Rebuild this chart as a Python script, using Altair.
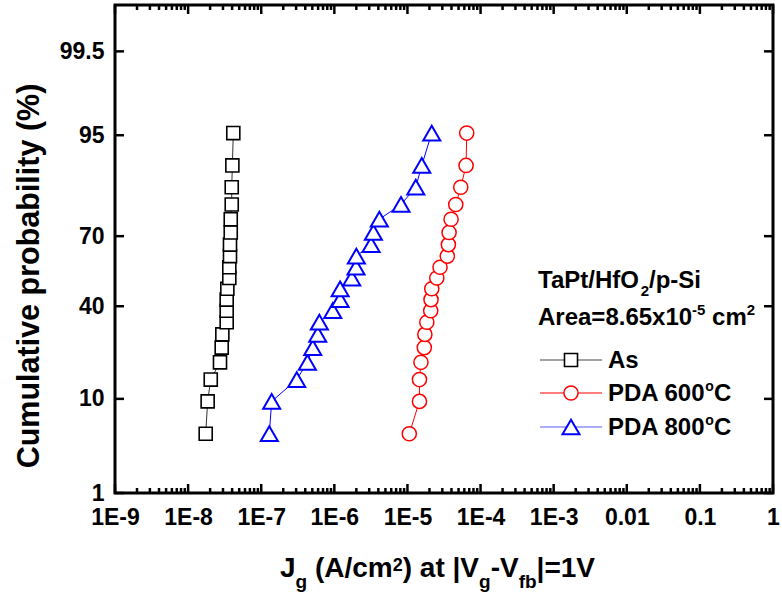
import json
import altair as alt
import pandas as pd
from statistics import NormalDist

# ---------------- data ----------------
prob = [4.76, 9.52, 14.29, 19.05, 23.81, 28.57, 33.33, 38.10, 42.86, 47.62,
        52.38, 57.14, 61.90, 66.67, 71.43, 76.19, 80.95, 85.71, 90.48, 95.24]
jg_as = [1.74e-8, 1.85e-8, 2.04e-8, 2.73e-8, 2.88e-8, 2.94e-8, 3.37e-8, 3.37e-8,
         3.37e-8, 3.44e-8, 3.66e-8, 3.66e-8, 3.74e-8, 3.74e-8, 3.83e-8, 3.83e-8,
         3.95e-8, 3.95e-8, 4.03e-8, 4.15e-8]
jg_600 = [1.06e-5, 1.46e-5, 1.46e-5, 1.53e-5, 1.70e-5, 1.73e-5, 1.84e-5, 2.08e-5,
          2.10e-5, 2.15e-5, 2.52e-5, 2.79e-5, 3.51e-5, 3.63e-5, 3.71e-5, 3.95e-5,
          4.58e-5, 5.36e-5, 6.34e-5, 6.47e-5]
jg_800 = [1.29e-7, 1.39e-7, 3.06e-7, 4.28e-7, 5.07e-7, 5.93e-7, 6.24e-7, 9.51e-7,
          1.20e-6, 1.20e-6, 1.73e-6, 1.98e-6, 2.00e-6, 3.18e-6, 3.42e-6, 4.13e-6,
          8.17e-6, 1.30e-5, 1.57e-5, 2.15e-5]
series_names = ["As", "PDA 600C", "PDA 800C"]

x_tick_values = [1e-9, 1e-8, 1e-7, 1e-6, 1e-5, 1e-4, 1e-3, 1e-2, 1e-1, 1.0]
x_tick_labels = ["1E-9", "1E-8", "1E-7", "1E-6", "1E-5", "1E-4", "1E-3", "0.01", "0.1", "1"]
x_minor_mult = [2, 3, 4, 5, 6, 7, 8, 9]
y_tick_probs = [1, 10, 40, 70, 95, 99.5]
y_tick_labels = ["1", "10", "40", "70", "95", "99.5"]
y_range_probs = [1, 99.9]

# ---------------- layout ----------------
FULL_W, FULL_H = 782, 599
PAD_L, PAD_T, PAD_R, PAD_B = 115, 5, 9, 106
W, H = FULL_W - PAD_L - PAD_R, FULL_H - PAD_T - PAD_B
FONT = "Liberation Sans"

# Arial/Liberation Sans Bold advance widths (em/1000) for chaining text pieces
ADV = {"J": 556, "g": 611, " ": 278, "(": 333, "A": 722, "/": 278, "c": 556, "m": 889,
       "2": 556, ")": 333, "a": 556, "t": 333, "|": 280, "V": 667, "-": 333, "f": 333,
       "b": 611, "=": 584, "1": 556, "T": 611, "P": 667, "H": 722, "O": 778, "p": 611,
       "S": 667, "i": 278, "r": 389, "e": 556, "8": 556, ".": 278, "6": 556, "5": 556,
       "x": 556, "0": 556, "D": 722, "o": 611, "C": 722, "s": 556}


def tw(s, size):
    return sum(ADV.get(ch, 556) for ch in s) * size / 1000.0


nd = NormalDist()


def zq(p):
    return nd.inv_cdf(p / 100.0)


rows = []
for name, vals in zip(series_names, [jg_as, jg_600, jg_800]):
    for p, j in zip(prob, vals):
        rows.append({"series": name, "jg": j, "prob": p, "z": zq(p)})
df = pd.DataFrame(rows)

xscale = alt.Scale(type="log", domain=[x_tick_values[0], x_tick_values[-1]], nice=False)
yscale = alt.Scale(domain=[zq(y_range_probs[0]), zq(y_range_probs[1])], nice=False, zero=False)

x_label_expr = json.dumps(x_tick_labels) + "[round(log(datum.value)/LN10)+9]"
zt = [zq(p) for p in y_tick_probs]
y_label_expr = "'%s'" % y_tick_labels[-1]
for i in range(len(zt) - 2, -1, -1):
    mid = (zt[i] + zt[i + 1]) / 2
    y_label_expr = "datum.value < %f ? '%s' : (%s)" % (mid, y_tick_labels[i], y_label_expr)

xaxis = alt.Axis(
    values=x_tick_values, labelExpr=x_label_expr, title=None,
    labelPadding=13, labelFontSize=23, labelFont=FONT, labelFontWeight="bold",
    labelColor="black", ticks=False, tickSize=0, domain=False, grid=False,
    labelFlush=False, labelOverlap=False)
yaxis = alt.Axis(
    values=zt, labelExpr=y_label_expr, title=None,
    labelPadding=11, labelFontSize=23, labelFont=FONT, labelFontWeight="bold",
    labelColor="black", ticks=False, tickSize=0, domain=False, grid=False,
    labelFlush=False, labelOverlap=False)


def X(field):
    return alt.X(field, scale=xscale, axis=xaxis)


def Y(field):
    return alt.Y(field, scale=yscale, axis=yaxis)


one = pd.DataFrame({"k": [0]})


def txt(s, x, y, size, align="left", baseline="alphabetic", angle=0):
    return alt.Chart(one).mark_text(
        text=s, font=FONT, fontSize=size, fontWeight="bold", color="black",
        align=align, baseline=baseline, angle=angle,
    ).encode(x=alt.value(x - PAD_L), y=alt.value(y - PAD_T))


def chain(pieces, x0, base_y):
    """pieces: (text, size, dy) placed one after another from x0 (spaces as advances)."""
    out = []
    x = x0
    for s, size, dy in pieces:
        lead = len(s) - len(s.lstrip(" "))
        x += tw(" " * lead, size)
        core = s.strip(" ")
        out.append(txt(core, x, base_y + dy, size))
        x += tw(s[lead:], size)
    return out


layers = []

# base layer carrying the axes (invisible points)
layers.append(alt.Chart(df).mark_point(opacity=0).encode(x=X("jg:Q"), y=Y("z:Q")))

# inward ticks
major_len, minor_len = 9, 5
xmaj = pd.DataFrame({"v": x_tick_values})
xmin = pd.DataFrame({"v": [m * d for d in x_tick_values[:-1] for m in x_minor_mult]})
ymaj = pd.DataFrame({"v": zt})
for d, L in [(xmaj, major_len), (xmin, minor_len)]:
    for y1, y2 in [(H, H - L), (0, L)]:
        layers.append(alt.Chart(d).mark_rule(color="black", strokeWidth=2.5).encode(
            x=X("v:Q"), y=alt.value(y1), y2=alt.value(y2)))
for x1, x2 in [(0, major_len), (W, W - major_len)]:
    layers.append(alt.Chart(ymaj).mark_rule(color="black", strokeWidth=2.5).encode(
        y=Y("v:Q"), x=alt.value(x1), x2=alt.value(x2)))

styles = {
    "As": dict(line="#333333", stroke="#000000", shape="square", size=170, sw=1.6),
    "PDA 600C": dict(line="#ff0000", stroke="#ff0000", shape="circle", size=200, sw=1.5),
    "PDA 800C": dict(line="#0000ff", stroke="#0000ff", shape="triangle-up", size=290, sw=2.0),
}

for name in series_names:
    st = styles[name]
    d = df[df["series"] == name]
    layers.append(alt.Chart(d).mark_line(color=st["line"], strokeWidth=1).encode(
        x=X("jg:Q"), y=Y("z:Q"), order="prob:Q"))
    layers.append(alt.Chart(d).mark_point(
        shape=st["shape"], size=st["size"], filled=True, fill="white", stroke=st["stroke"],
        strokeWidth=st["sw"], opacity=1).encode(x=X("jg:Q"), y=Y("z:Q")))

# legend
leg_rows = [(360, "As", "As"), (393, "PDA 600C", "PDA 600"), (427, "PDA 800C", "PDA 800")]
leg_line_colors = {"As": "#444444", "PDA 600C": "#ff0000", "PDA 800C": "#5a5aff"}
for yy, name, label in leg_rows:
    st = styles[name]
    layers.append(alt.Chart(one).mark_rule(color=leg_line_colors[name], strokeWidth=1.2).encode(
        x=alt.value(540 - PAD_L), x2=alt.value(602 - PAD_L), y=alt.value(yy - PAD_T)))
    layers.append(alt.Chart(one).mark_point(
        shape=st["shape"], size=st["size"], filled=True, fill="white", stroke=st["stroke"],
        strokeWidth=st["sw"], opacity=1).encode(
        x=alt.value(571 - PAD_L), y=alt.value(yy - PAD_T)))
    pieces = [(label, 24, 0)]
    if name != "As":
        pieces += [("o", 14, -10), ("C", 24, 0)]
    layers += chain(pieces, 608, yy + 8)

layers += chain([("TaPt/HfO", 24, 0), ("2", 15, 8), ("/p-Si", 24, 0)], 538, 288)
layers += chain([("Area=8.65x10", 24, 0), ("-5", 15, -10), (" cm", 24, 0), ("2", 15, -10)], 538, 325)

# y title
layers.append(txt("Cumulative probability (%)", 39, 276, 30.5, align="center", angle=270))

# x title
layers += chain([("J", 28, 0), ("g", 19, 11), (" (A/cm", 28, 0), ("2", 18, -6),
                 (") at |V", 28, 0), ("g", 19, 11), ("-V", 28, 0), ("fb", 19, 11),
                 ("|=1V", 28, 0)], 280, 577)

chart = alt.layer(*layers).properties(
    width=W, height=H,
    padding={"left": PAD_L, "top": PAD_T, "right": PAD_R, "bottom": PAD_B},
    autosize=alt.AutoSizeParams(type="none"),
    background="white",
).configure_view(stroke="black", strokeWidth=3)

chart.save("out.html", embed_options={"renderer": "svg", "actions": False})
